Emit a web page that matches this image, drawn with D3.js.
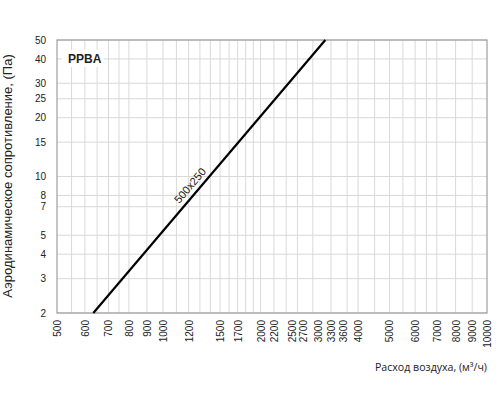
<!DOCTYPE html>
<html lang="ru">
<head>
    <meta charset="UTF-8">
    <title>PPBA 500x250</title>
    <script src="https://d3js.org/d3.v7.min.js"></script>
    <style>
        body { margin: 0; background: #fff; }
        svg text { font-family: 'Liberation Sans', Arial, sans-serif; fill: #222; }
    </style>
</head>
<body>
    <div id="chart"></div>

    <script>
        // airflow (m3/h) and pressure drop (Pa)
        const flowValues = [634, 3170];
        const pressureValues = [2, 50];
        const seriesName = '500x250';

        const xTickLabels = [500, 600, 700, 800, 900, 1000, 1200, 1500, 1700, 2000, 2200, 2500, 2700,
            3000, 3300, 3600, 4000, 5000, 6000, 7000, 8000, 9000, 10000];
        const xGridValues = [550, 600, 650, 700, 750, 800, 900, 1000, 1100, 1200, 1300, 1400, 1500,
            1600, 1700, 1800, 1900, 2000, 2200, 2400, 2600, 2900, 3300, 3700, 4000, 4500, 5000,
            5500, 6000, 6500, 7000, 8000, 9000];
        const yTickLabels = [2, 3, 4, 5, 7, 8, 10, 15, 20, 25, 30, 40, 50];

        const margin = { top: 40, right: 13, bottom: 87, left: 57 };
        const width = 500, height = 400;
        const w = width - margin.left - margin.right;
        const h = height - margin.top - margin.bottom;

        const svg = d3.select('#chart').append('svg')
            .attr('width', width)
            .attr('height', height);

        const g = svg.append('g')
            .attr('transform', `translate(${margin.left},${margin.top})`);

        // log axis, the first octave is drawn a bit wider than the rest
        const x = d3.scaleLog()
            .domain([500, 1000, 10000])
            .range([0, w * 106 / 430, w]);

        const y = d3.scaleLog()
            .domain([2, 50])
            .range([h, 0]);

        // grid
        g.append('g')
            .selectAll('line')
            .data(xGridValues)
            .join('line')
            .attr('x1', d => x(d)).attr('x2', d => x(d))
            .attr('y1', 0).attr('y2', h)
            .attr('stroke', '#d9d9d9')
            .attr('stroke-width', 1);

        g.append('g')
            .selectAll('line')
            .data(yTickLabels)
            .join('line')
            .attr('x1', 0).attr('x2', w)
            .attr('y1', d => y(d)).attr('y2', d => y(d))
            .attr('stroke', '#d9d9d9')
            .attr('stroke-width', 1);

        // frame
        g.append('rect')
            .attr('width', w).attr('height', h)
            .attr('fill', 'none')
            .attr('stroke', '#8c8c8c')
            .attr('stroke-width', 1);

        // axes
        const xAxis = g.append('g')
            .attr('transform', `translate(0,${h})`)
            .call(d3.axisBottom(x).tickValues(xTickLabels).tickFormat(d3.format('d')).tickSize(0).tickPadding(0));
        xAxis.select('.domain').remove();
        xAxis.selectAll('text')
            .attr('transform', 'rotate(-90)')
            .attr('x', -7).attr('y', 0).attr('dy', '0.35em')
            .style('text-anchor', 'end')
            .style('font-size', '10px');

        const yAxis = g.append('g')
            .call(d3.axisLeft(y).tickValues(yTickLabels).tickFormat(d3.format('d')).tickSize(0).tickPadding(11));
        yAxis.select('.domain').remove();
        yAxis.selectAll('text').style('font-size', '10px');

        // series
        const points = flowValues.map((q, i) => ({ q, p: pressureValues[i] }));
        g.append('path')
            .datum(points)
            .attr('fill', 'none')
            .attr('stroke', '#000')
            .attr('stroke-width', 2.2)
            .attr('d', d3.line().x(d => x(d.q)).y(d => y(d.p)));

        // label along the line
        const p0 = points[0], p1 = points[1];
        const angle = Math.atan2(y(p1.p) - y(p0.p), x(p1.q) - x(p0.q)) * 180 / Math.PI;
        const t = 0.446;
        const lx = x(p0.q) + t * (x(p1.q) - x(p0.q));
        const ly = y(p0.p) + t * (y(p1.p) - y(p0.p));
        g.append('text')
            .attr('transform', `translate(${lx},${ly}) rotate(${angle}) translate(0,-5)`)
            .style('text-anchor', 'middle')
            .style('font-size', '11px')
            .text(seriesName);

        // model name box
        const title = g.append('g').attr('transform', 'translate(5,10)');
        title.append('rect')
            .attr('width', 42).attr('height', 17)
            .attr('fill', '#fff');
        title.append('text')
            .attr('x', 6).attr('y', 13)
            .style('font-size', '12px')
            .style('font-weight', 'bold')
            .text('PPBA');

        // axis titles
        svg.append('text')
            .attr('transform', `translate(12,176) rotate(-90)`)
            .style('text-anchor', 'middle')
            .style('font-size', '13px')
            .text('Аэродинамическое сопротивление, (Па)');

        svg.append('text')
            .attr('x', margin.left + w)
            .attr('y', 371)
            .style('text-anchor', 'end')
            .style('font-family', "'Open Sans', sans-serif")
            .style('font-size', '10.6px')
            .text('Расход воздуха, (м³/ч)');
    </script>
</body>
</html>
